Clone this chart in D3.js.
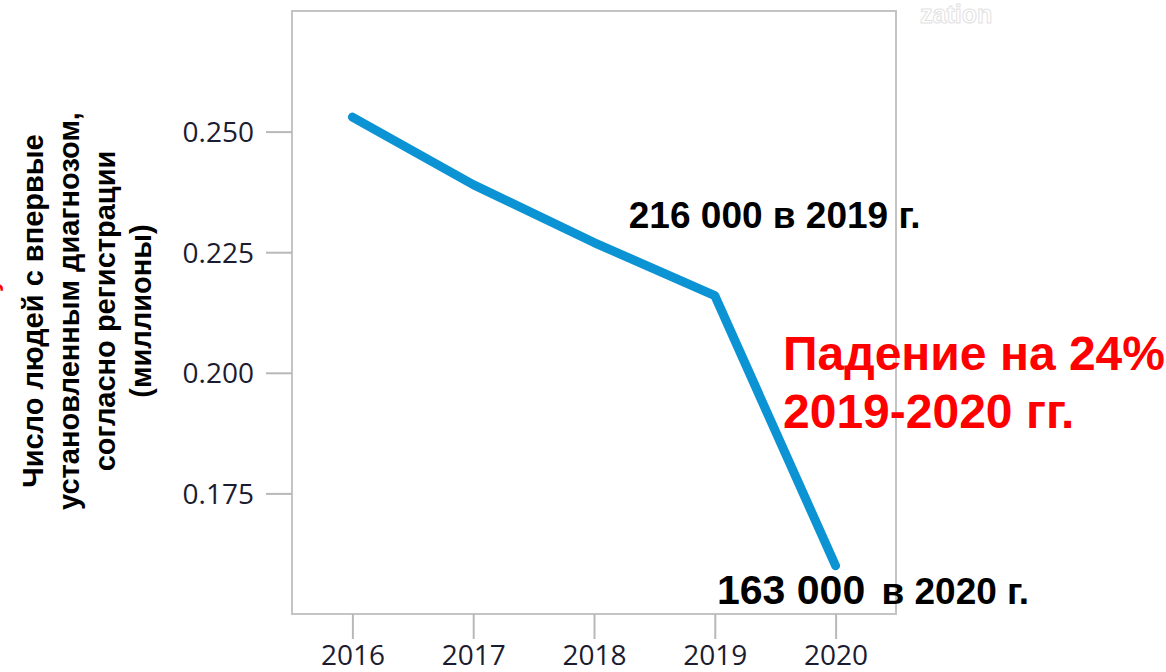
<!DOCTYPE html>
<html>
<head>
<meta charset="utf-8">
<script src="https://cdn.jsdelivr.net/npm/d3@7"></script>
<style>
  body { margin: 0; background: #fff; }
  svg { display: block; }
</style>
</head>
<body>
<div class="chart"></div>
<script>
const years = [2016, 2017, 2018, 2019, 2020]
const diagnosed = [0.253, 0.239, 0.227, 0.216, 0.160]
const yTicks = [0.175, 0.200, 0.225, 0.250]
const yTitle = ["Число людей с впервые", "установленным диагнозом,", "согласно регистрации", "(миллионы)"]
const dropLines = ["Падение на 24%", "2019-2020 гг."]

const dimensions = {
    width: 1166,
    height: 672,
    margin: { top: 11, right: 270, bottom: 58, left: 292 }
}
dimensions.boundedWidth = dimensions.width - dimensions.margin.left - dimensions.margin.right
dimensions.boundedHeight = dimensions.height - dimensions.margin.top - dimensions.margin.bottom

const wrapper = d3.select(".chart")
    .append("svg")
    .attr("width", dimensions.width)
    .attr("height", dimensions.height)

const bounds = wrapper.append("g")
    .attr("transform", `translate(${dimensions.margin.left},${dimensions.margin.top})`)

const xScale = d3.scaleLinear()
    .domain([2015.5, 2020.5])
    .range([0, dimensions.boundedWidth])

const yScale = d3.scaleLinear()
    .domain([0.15, 0.275])
    .range([dimensions.boundedHeight, 0])

// frame
bounds.append("rect")
    .attr("width", dimensions.boundedWidth)
    .attr("height", dimensions.boundedHeight)
    .attr("fill", "none")
    .attr("stroke", "#c4c4c4")
    .attr("stroke-width", 2)

const tickFont = "'Open Sans', 'Noto Sans', sans-serif"

const xAxis = bounds.append("g")
    .attr("transform", `translate(0,${dimensions.boundedHeight})`)
    .call(d3.axisBottom(xScale).tickValues(years).tickFormat(d3.format("d")).tickSize(25).tickPadding(6))
xAxis.select(".domain").remove()

const yAxis = bounds.append("g")
    .call(d3.axisLeft(yScale).tickValues(yTicks).tickFormat(d3.format(".3f")).tickSize(26).tickPadding(12))
yAxis.select(".domain").remove()

bounds.selectAll(".tick line")
    .attr("stroke", "#b8b8b8")
    .attr("stroke-width", 2)
bounds.selectAll(".tick text")
    .attr("fill", "#1c1c30")
    .style("font-family", tickFont)
    .style("font-size", "28px")
yAxis.selectAll(".tick text").attr("dy", "0.36em")

// line
const line = d3.line()
    .x((d, i) => xScale(years[i]))
    .y(d => yScale(d))

bounds.append("path")
    .datum(diagnosed)
    .attr("d", line)
    .attr("fill", "none")
    .attr("stroke", "#0b93d3")
    .attr("stroke-width", 9)
    .attr("stroke-linecap", "round")
    .attr("stroke-linejoin", "round")

const boldFont = "'Liberation Sans', Arial, sans-serif"

// y title
const title = wrapper.append("text")
    .attr("transform", "translate(0,311) rotate(-90)")
    .attr("text-anchor", "middle")
    .style("font-family", boldFont)
    .style("font-weight", "bold")
    .style("font-size", "29px")
    .attr("fill", "#000")
title.selectAll("tspan")
    .data(yTitle)
    .join("tspan")
    .attr("x", 0)
    .attr("y", (d, i) => 43 + i * 36)
    .text(d => d)

// cut-off red glyph on the left edge
wrapper.append("text")
    .attr("transform", "translate(-2,292) rotate(-90)")
    .style("font-family", boldFont)
    .style("font-weight", "bold")
    .style("font-size", "24px")
    .attr("fill", "#ff0000")
    .text("у")

// annotations
const i2019 = years.indexOf(2019)

wrapper.append("text")
    .attr("x", dimensions.margin.left + xScale(2019) - 86)
    .attr("y", 228)
    .style("font-family", boldFont)
    .style("font-weight", "bold")
    .style("font-size", "37px")
    .attr("fill", "#000")
    .text(`${d3.format(",")(diagnosed[i2019] * 1e6).replace(",", " ")} в 2019 г.`)

const label2020 = wrapper.append("text")
    .attr("x", 717)
    .attr("y", 604)
    .style("font-family", boldFont)
    .style("font-weight", "bold")
    .attr("fill", "#000")
label2020.append("tspan").style("font-size", "41px").text("163 000")
label2020.append("tspan").attr("dx", 6).style("font-size", "37px").text(" в 2020 г.")

const drop = wrapper.append("text")
    .style("font-family", boldFont)
    .style("font-weight", "bold")
    .style("font-size", "48px")
    .attr("fill", "#ff0000")
drop.selectAll("tspan")
    .data(dropLines)
    .join("tspan")
    .attr("x", 783)
    .attr("y", (d, i) => 370 + i * 58)
    .text(d => d)

// faint leftover text at the top right
wrapper.append("text")
    .attr("x", 920)
    .attr("y", 23)
    .style("font-family", boldFont)
    .style("font-weight", "bold")
    .style("font-size", "25px")
    .attr("fill", "#fff")
    .attr("stroke", "#e2e2e2")
    .attr("stroke-width", 1)
    .text("zation")
</script>
</body>
</html>
